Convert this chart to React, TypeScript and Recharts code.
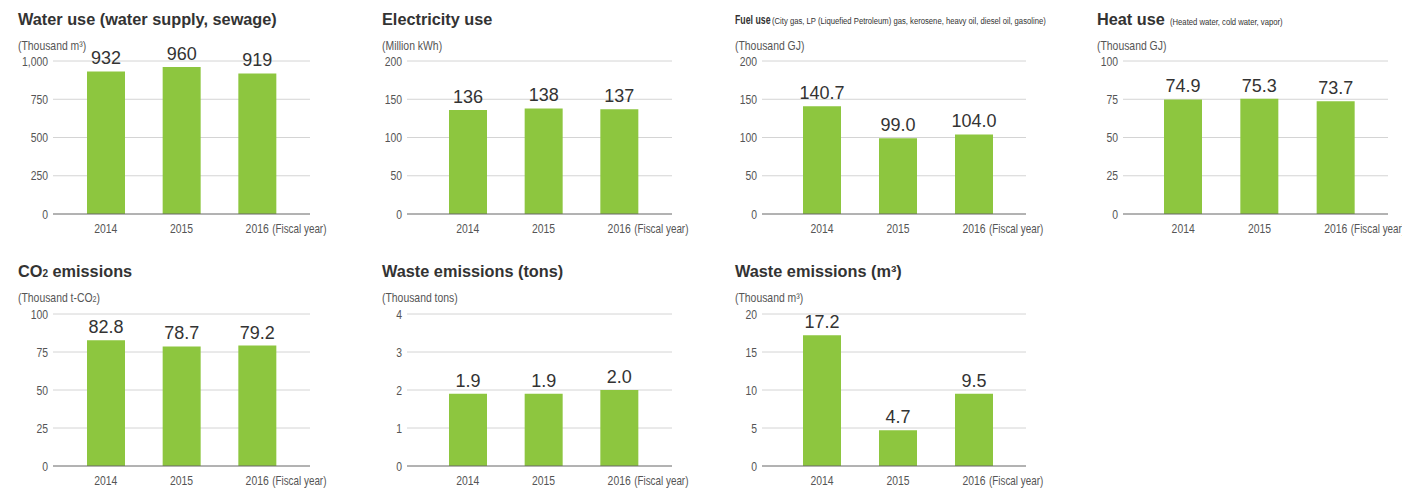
import React from 'react';
import { BarChart, Bar, XAxis, YAxis, CartesianGrid, LabelList } from 'recharts';

const years = ['2014', '2015', '2016'];
const fiscalSuffix = '(Fiscal year)';

const waterValues = [932, 960, 919];
const waterTicks = [0, 250, 500, 750, 1000];
const electricityValues = [136, 138, 137];
const electricityTicks = [0, 50, 100, 150, 200];
const fuelValues = [140.7, 99.0, 104.0];
const fuelTicks = [0, 50, 100, 150, 200];
const heatValues = [74.9, 75.3, 73.7];
const heatTicks = [0, 25, 50, 75, 100];
const co2Values = [82.8, 78.7, 79.2];
const co2Ticks = [0, 25, 50, 75, 100];
const wasteTonValues = [1.9, 1.9, 2.0];
const wasteTonTicks = [0, 1, 2, 3, 4];
const wasteM3Values = [17.2, 4.7, 9.5];
const wasteM3Ticks = [0, 5, 10, 15, 20];

const BAR = '#8dc63f';
const SANS = '"Liberation Sans", Arial, sans-serif';
const SQUEEZE = 0.8; // no condensed font installed, so squeeze Liberation Sans

// column geometry: title x, grid left/right, x padding
const cols = [
  { tx: 18, gl: 53, gr: 310, pl: 15, pr: 15 },
  { tx: 382, gl: 407, gr: 672, pl: 23, pr: 15 },
  { tx: 735, gl: 762, gr: 1026, pl: 22, pr: 14 },
  { tx: 1097, gl: 1123, gr: 1388, pl: 22, pr: 14 },
];
const rows = [
  { top: 0, gt: 61, gb: 214 },
  { top: 252, gt: 314, gb: 466 },
];

// narrow html text
const Narrow: React.FC<{ size: number; bold?: boolean; sx?: number; children: React.ReactNode }> = ({ size, bold, sx, children }) => (
  <span
    style={{
      display: 'inline-block',
      fontFamily: SANS,
      fontSize: size,
      fontWeight: bold ? 'bold' : 'normal',
      transform: `scaleX(${sx ?? SQUEEZE})`,
      transformOrigin: 'left center',
      whiteSpace: 'nowrap',
    }}
  >
    {children}
  </span>
);

const YearTick = (props: any) => {
  const { x, y, payload } = props;
  const last = payload.value === years[years.length - 1];
  return (
    <g>
      <text
        transform={`translate(${x},${y + 19}) scale(${SQUEEZE},1)`}
        textAnchor="middle"
        fill="#555"
        fontSize={13}
        fontFamily={SANS}
      >
        {payload.value}
      </text>
      {last && (
        <text
          transform={`translate(${x + 15},${y + 19}) scale(0.76,1)`}
          textAnchor="start"
          fill="#555"
          fontSize={13}
          fontFamily={SANS}
        >
          {fiscalSuffix}
        </text>
      )}
    </g>
  );
};

const ValueTick = (props: any) => {
  const { x, y, payload } = props;
  return (
    <text
      transform={`translate(${x},${y + 4.5}) scale(${SQUEEZE},1)`}
      textAnchor="end"
      fill="#555"
      fontSize={13}
      fontFamily={SANS}
    >
      {Number(payload.value).toLocaleString('en-US')}
    </text>
  );
};

interface PanelProps {
  title: React.ReactNode;
  unit: React.ReactNode;
  values: number[];
  ticks: number[];
  decimals: number;
  col: number;
  row: number;
}

const Panel: React.FC<PanelProps> = ({ title, unit, values, ticks, decimals, col, row }) => {
  const c = cols[col];
  const r = rows[row];
  const data = years.map((y, i) => ({ year: y, value: values[i] }));
  const plotW = c.gr - c.gl;
  const plotH = r.gb - r.gt;
  return (
    <>
      <div style={{ position: 'absolute', left: c.tx, top: r.top + 11, lineHeight: 1, whiteSpace: 'nowrap', color: '#333' }}>
        {title}
      </div>
      <div style={{ position: 'absolute', left: c.tx, top: r.top + 37, lineHeight: 1, whiteSpace: 'nowrap', color: '#555' }}>
        <Narrow size={13}>{unit}</Narrow>
      </div>
      <div style={{ position: 'absolute', left: c.gl - 40, top: r.gt - 30 }}>
        <BarChart
          width={plotW + 90}
          height={plotH + 60}
          data={data}
          margin={{ top: 30, right: 50, left: 0, bottom: 0 }}
        >
          <CartesianGrid vertical={false} stroke="#d4d4d4" horizontalValues={ticks.slice(1)} />
          <XAxis
            dataKey="year"
            height={30}
            padding={{ left: c.pl, right: c.pr }}
            axisLine={{ stroke: '#666' }}
            tickLine={false}
            tickSize={0}
            tickMargin={0}
            tick={<YearTick />}
            interval={0}
          />
          <YAxis
            width={40}
            domain={[ticks[0], ticks[ticks.length - 1]]}
            ticks={ticks}
            axisLine={false}
            tickLine={false}
            tickSize={0}
            tickMargin={5}
            tick={<ValueTick />}
            interval={0}
          />
          <Bar dataKey="value" fill={BAR} barSize={38} isAnimationActive={false}>
            <LabelList
              dataKey="value"
              position="top"
              offset={7}
              fill="#333"
              fontSize={18}
              fontFamily={SANS}
              formatter={(v: any) => Number(v).toFixed(decimals)}
            />
          </Bar>
        </BarChart>
      </div>
    </>
  );
};

const bigTitle: React.CSSProperties = { fontFamily: SANS, fontWeight: 'bold', fontSize: 16.3 };

export default function App() {
  return (
    <div style={{ position: 'absolute', left: 0, top: 0, width: 1402, height: 489, background: '#fff', overflow: 'hidden' }}>
      <Panel
        col={0}
        row={0}
        title={<span style={bigTitle}>Water use (water supply, sewage)</span>}
        unit={<>(Thousand m³)</>}
        values={waterValues}
        ticks={waterTicks}
        decimals={0}
      />
      <Panel
        col={1}
        row={0}
        title={<span style={bigTitle}>Electricity use</span>}
        unit={<>(Million kWh)</>}
        values={electricityValues}
        ticks={electricityTicks}
        decimals={0}
      />
      <Panel
        col={2}
        row={0}
        title={
          <span style={{ display: 'inline-flex', alignItems: 'baseline' }}>
            <span style={{ width: 37, display: 'inline-block' }}>
              <Narrow size={12.5} bold sx={0.7}>Fuel use</Narrow>
            </span>
            <Narrow size={9.6}>
              (City gas, LP (Liquefied Petroleum) gas, kerosene, heavy oil, diesel oil, gasoline)
            </Narrow>
          </span>
        }
        unit={<>(Thousand GJ)</>}
        values={fuelValues}
        ticks={fuelTicks}
        decimals={1}
      />
      <Panel
        col={3}
        row={0}
        title={
          <span style={{ display: 'inline-flex', alignItems: 'baseline' }}>
            <span style={{ ...bigTitle, marginRight: 5 }}>Heat use</span>
            <Narrow size={9.6}>(Heated water, cold water, vapor)</Narrow>
          </span>
        }
        unit={<>(Thousand GJ)</>}
        values={heatValues}
        ticks={heatTicks}
        decimals={1}
      />
      <Panel
        col={0}
        row={1}
        title={
          <span style={bigTitle}>
            CO<span style={{ fontSize: 10 }}>2</span> emissions
          </span>
        }
        unit={
          <>
            (Thousand t-CO<span style={{ fontSize: 9 }}>2</span>)
          </>
        }
        values={co2Values}
        ticks={co2Ticks}
        decimals={1}
      />
      <Panel
        col={1}
        row={1}
        title={<span style={bigTitle}>Waste emissions (tons)</span>}
        unit={<>(Thousand tons)</>}
        values={wasteTonValues}
        ticks={wasteTonTicks}
        decimals={1}
      />
      <Panel
        col={2}
        row={1}
        title={<span style={bigTitle}>Waste emissions (m³)</span>}
        unit={<>(Thousand m³)</>}
        values={wasteM3Values}
        ticks={wasteM3Ticks}
        decimals={1}
      />
    </div>
  );
}
